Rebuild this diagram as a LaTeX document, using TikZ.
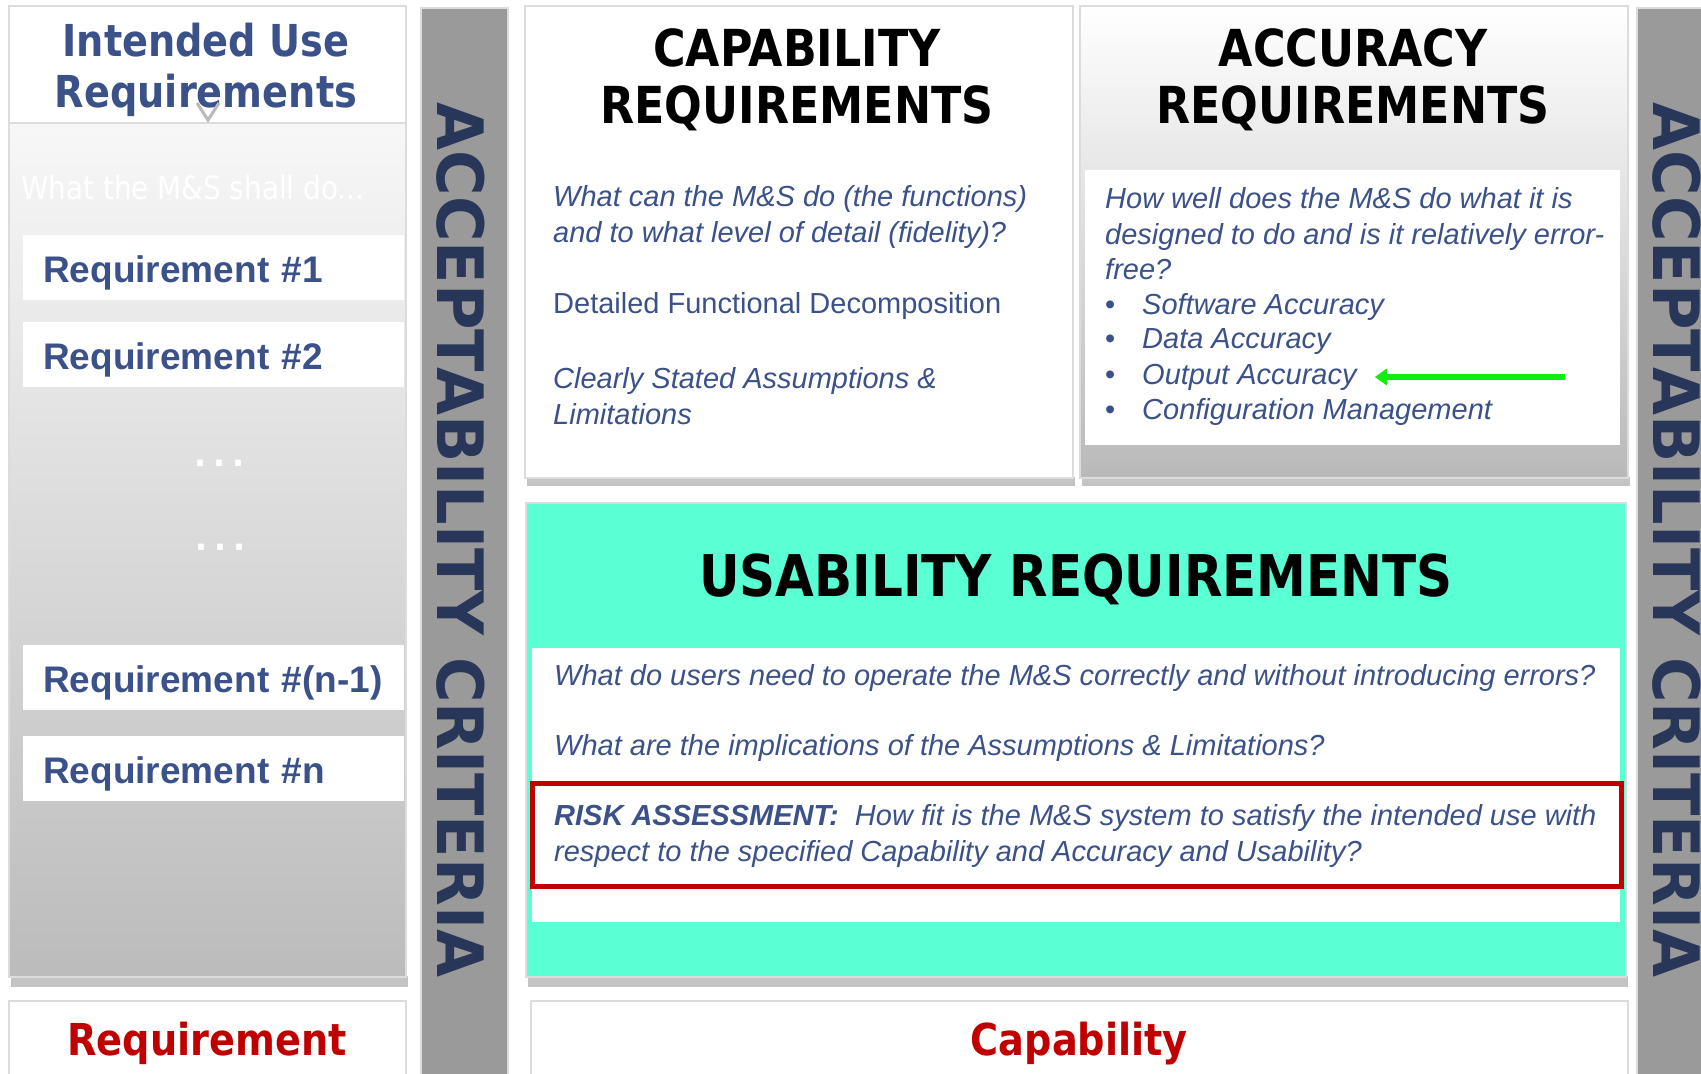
\documentclass[tikz,border=0pt]{standalone}
\usepackage{fontspec}
\setmainfont{Liberation Sans}
\newfontfamily\tahoma[FakeStretch=0.87]{DejaVu Sans}
\newfontfamily\tahomawide[FakeStretch=0.97]{DejaVu Sans}
\usetikzlibrary{
  arrows.meta,
  positioning
}
\definecolor{msNavy}{HTML}{3B5189}
\definecolor{msDark}{HTML}{283659}
\definecolor{msBar}{HTML}{9A9A9A}
\definecolor{msAqua}{HTML}{5AFFD4}
\definecolor{msRed}{HTML}{C00000}
\definecolor{msGreen}{HTML}{10EE10}
\definecolor{msEdge}{HTML}{DCDCDC}
\definecolor{msShadow}{HTML}{C4C4C4}
\newcommand{\listdot}{\makebox[37pt][l]{\upshape\textbullet}}
\tikzset{
  panel/.style={draw=msEdge, line width=1.5pt, inner sep=0pt, anchor=north west},
  whitepanel/.style={panel, fill=white},
  innerbox/.style={fill=white, inner sep=0pt, anchor=north west},
  critbar/.style={panel, fill=msBar, line width=2pt},
  crittext/.style={font=\tahomawide\bfseries\fontsize{64}{66}\selectfont, text=msDark, rotate=-90, inner sep=0pt},
  bigtitle/.style={font=\tahoma\bfseries\fontsize{51}{57}\selectfont, align=center, inner sep=0pt},
  navytitle/.style={font=\tahoma\bfseries\fontsize{44}{51}\selectfont, text=msNavy, align=center, inner sep=0pt},
  reqbox/.style={
    fill=white, anchor=north west, minimum height=65pt, text width=341pt,
    text height=36pt, text depth=6pt,
    inner xsep=20pt, inner ysep=0pt, align=left, text=msNavy,
    font=\bfseries\fontsize{37}{40}\selectfont
  },
  body/.style={font=\fontsize{29}{35.5}\selectfont, text=msNavy, anchor=west, align=left, inner sep=0pt},
  bodyit/.style={body, font=\itshape\fontsize{29}{35.5}\selectfont},
  redlabel/.style={font=\tahoma\bfseries\fontsize{44}{48}\selectfont, text=msRed},
  riskbox/.style={draw=msRed, line width=5pt, inner sep=0pt},
  shadowband/.style={fill=msShadow},
  pointer/.style={-{Triangle[length=12pt, width=16pt]}, line width=6pt, msGreen}
}
\begin{document}
\begin{tikzpicture}[x=1pt, y=-1pt, node distance=21pt]
  \useasboundingbox (0,0) rectangle (1701,1074);
  \clip (0,0) rectangle (1701,1074);

  % left column: intended use
  \fill[shadowband] (11,976) rectangle (408,987);
  \node[whitepanel, minimum width=397pt, minimum height=117pt] (iuhead) at (8,5) {};
  \node[panel, top color=gray!6, bottom color=gray!53, minimum width=397pt, minimum height=854pt] (iubody) at (8,122) {};
  \node[navytitle] (iutitle) at (206,70) {Intended Use\\Requirements};
  \draw[gray!55, line width=3pt] (197,103) -- (208,120) -- (219,103);
  \node[anchor=west, font=\tahoma\fontsize{32}{36}\selectfont, text=white, inner sep=0pt] (shalldo) at (21,188) {What the M\&S shall do...};
  \node[reqbox] (req1) at (23,235) {Requirement \#1};
  \node[reqbox, below=of req1] (req2) {Requirement \#2};
  \node[font=\fontsize{60}{60}\selectfont, text=white, inner sep=0pt] (dots1) at (219,463) {\ldots};
  \node[font=\fontsize{60}{60}\selectfont, text=white, inner sep=0pt] (dots2) at (220,547) {\ldots};
  \node[reqbox] (reqm) at (23,645) {Requirement \#(n-1)};
  \node[reqbox, below=25pt of reqm] (reqn) {Requirement \#n};
  \node[whitepanel, redlabel, minimum width=397pt, minimum height=86pt] (reqfoot) at (8,1000) {Requirement};

  % acceptability bars
  \node[critbar, minimum width=87pt, minimum height=1074pt] (lbar) at (420,7) {};
  \node[crittext] (ltext) at (461,540) {ACCEPTABILITY CRITERIA};
  \node[critbar, minimum width=87pt, minimum height=1074pt] (rbar) at (1636,7) {};
  \node[crittext] (rtext) at (1677,540) {ACCEPTABILITY CRITERIA};

  % capability
  \fill[shadowband] (527,477) rectangle (1075,486);
  \node[whitepanel, minimum width=548pt, minimum height=472pt] (cappanel) at (524,5) {};
  \node[bigtitle] (captitle) at (797,80) {CAPABILITY\\REQUIREMENTS};
  \node[bodyit] (capq) at (553,217) {What can the M\&S do (the functions)\\and to what level of detail (fidelity)?};
  \node[body] (capdec) at (553,306) {Detailed Functional Decomposition};
  \node[bodyit] (capass) at (553,396) {Clearly Stated Assumptions \&\\Limitations};

  % accuracy
  \fill[shadowband] (1082,477) rectangle (1630,486);
  \node[panel, top color=white, bottom color=gray!55, minimum width=548pt, minimum height=472pt] (accpanel) at (1079,5) {};
  \node[innerbox, minimum width=535pt, minimum height=275pt] (accinner) at (1085,170) {};
  \node[bigtitle] (acctitle) at (1353,80) {ACCURACY\\REQUIREMENTS};
  \node[bodyit] (accq) at (1105,234) {How well does the M\&S do what it is\\designed to do and is it relatively error-\\free?};
  \node[bodyit] (bsoft) at (1105,307) {\listdot Software Accuracy};
  \node[bodyit] (bdata) at (1105,342) {\listdot Data Accuracy};
  \node[bodyit] (bout) at (1105,377) {\listdot Output Accuracy};
  \node[bodyit] (bconf) at (1105,412) {\listdot Configuration Management};
  \coordinate (gtail) at (1565,377);
  \draw[pointer] (gtail) -- ([xshift=18pt]bout.east);

  % usability
  \fill[shadowband] (528,976) rectangle (1628,987);
  \node[panel, fill=msAqua, minimum width=1100pt, minimum height=474pt] (usepanel) at (525,502) {};
  \node[innerbox, minimum width=1088pt, minimum height=274pt] (useinner) at (532,648) {};
  \node[bigtitle, font=\tahoma\bfseries\fontsize{57.5}{60}\selectfont] (usetitle) at (1076,579) {USABILITY REQUIREMENTS};
  \node[bodyit] (useq1) at (554,678) {What do users need to operate the M\&S correctly and without introducing errors?};
  \node[bodyit] (useq2) at (554,748) {What are the implications of the Assumptions \& Limitations?};
  \node[riskbox, minimum width=1089pt, minimum height=103pt] (risk) at (1076.5,834.5) {};
  \node[bodyit] (risktxt) at (554,836) {\textbf{RISK ASSESSMENT:}\ \ How fit is the M\&S system to satisfy the intended use with\\respect to the specified Capability and Accuracy and Usability?};
  \node[whitepanel, redlabel, minimum width=1097pt, minimum height=86pt] (capfoot) at (530,1000) {Capability};
\end{tikzpicture}
\end{document}
